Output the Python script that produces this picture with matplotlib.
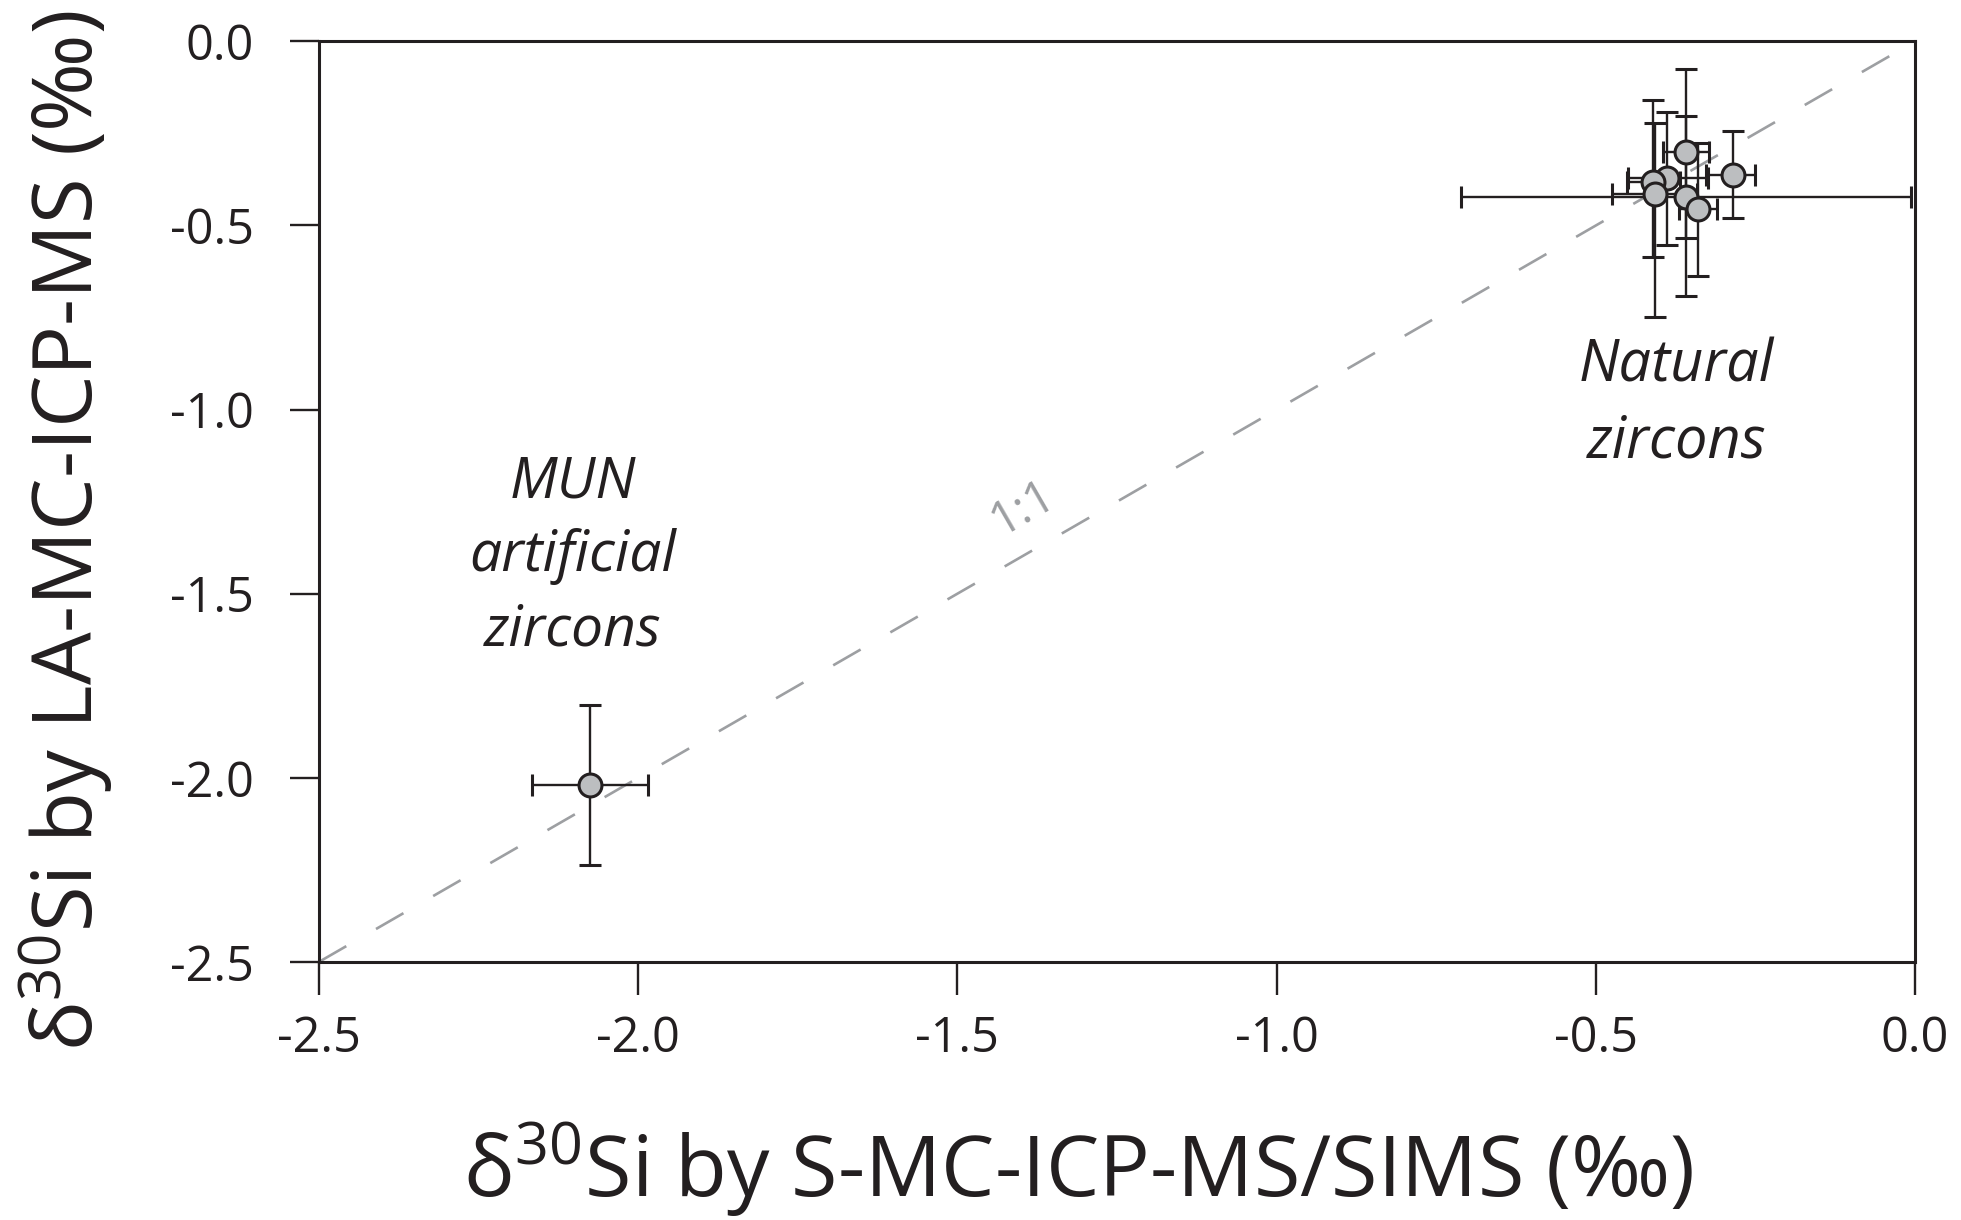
import matplotlib
matplotlib.use("Agg")
import matplotlib.pyplot as plt

plt.rcParams['font.family'] = ['Open Sans', 'DejaVu Sans']
plt.rcParams['mathtext.default'] = 'regular'
plt.rcParams['axes.unicode_minus'] = False

# Natural zircons: x = S-MC-ICP-MS/SIMS, y = LA-MC-ICP-MS
nat_x = [-0.359, -0.286, -0.388, -0.410, -0.359, -0.408, -0.340]
nat_y = [-0.300, -0.363, -0.372, -0.383, -0.422, -0.415, -0.456]
nat_xerr_lo = [0.036, 0.041, 0.062, 0.041, 0.352, 0.067, 0.030]
nat_xerr_hi = [0.036, 0.036, 0.063, 0.041, 0.352, 0.067, 0.030]
nat_yerr_lo = [0.233, 0.118, 0.181, 0.202, 0.270, 0.333, 0.180]
nat_yerr_hi = [0.224, 0.120, 0.181, 0.224, 0.220, 0.194, 0.180]

# MUN artificial zircons
mun_x = [-2.075]
mun_y = [-2.020]
mun_xerr = [0.091]
mun_yerr = [0.218]

ticks = [-2.5, -2.0, -1.5, -1.0, -0.5, 0.0]
tick_labels = ['-2.5', '-2.0', '-1.5', '-1.0', '-0.5', '0.0']

ink = '#231f20'
fig = plt.figure(figsize=(19.61, 12.20), dpi=100)
ax = fig.add_axes([0.1626, 0.2115, 0.8140, 0.7546])

# 1:1 line
ax.plot([-2.5, 0.0], [-2.5, 0.0], color='#9d9fa2', lw=1.9, dashes=(12, 13), zorder=1)
ax.text(-1.397, -1.268, '1:1', color='#9d9fa2', fontsize=34, rotation=30,
        ha='center', va='center', rotation_mode='anchor')

err_style = dict(fmt='o', ms=16.5, mfc='#bcbec0', mec=ink, mew=2.2,
                 ecolor=ink, elinewidth=1.7, capsize=8, capthick=1.7, zorder=3)
ax.errorbar(nat_x, nat_y, xerr=[nat_xerr_lo, nat_xerr_hi],
            yerr=[nat_yerr_lo, nat_yerr_hi], **err_style)
ax.errorbar(mun_x, mun_y, xerr=mun_xerr, yerr=mun_yerr, **err_style)

ax.text(-0.374, -0.985, 'Natural\nzircons', style='italic', fontsize=41.5,
        ha='center', va='center', color=ink, linespacing=1.4)
ax.text(-2.102, -1.40, 'MUN\nartificial\nzircons', style='italic', fontsize=41,
        ha='center', va='center', color=ink, linespacing=1.4)

ax.set_xlim(-2.5, 0.0)
ax.set_ylim(-2.5, 0.0)
ax.set_xticks(ticks)
ax.set_xticklabels(tick_labels)
ax.set_yticks(ticks)
ax.set_yticklabels(tick_labels)
ax.tick_params(axis='both', direction='out', width=1.7, colors=ink,
               labelsize=35)
ax.tick_params(axis='x', length=24, pad=14)
ax.tick_params(axis='y', length=21, pad=26)

for side in ['left', 'bottom', 'top', 'right']:
    ax.spines[side].set_linewidth(2.2)
    ax.spines[side].set_color(ink)

ax.set_xlabel('δ$^{30}$Si by S-MC-ICP-MS/SIMS (‰)', fontsize=61, color=ink)
ax.xaxis.set_label_coords(0.4756, -0.173)
ax.set_ylabel('δ$^{30}$Si by LA-MC-ICP-MS (‰)', fontsize=60, color=ink)
ax.yaxis.set_label_coords(-0.128, 0.469)

fig.savefig('out.png', dpi=100)
